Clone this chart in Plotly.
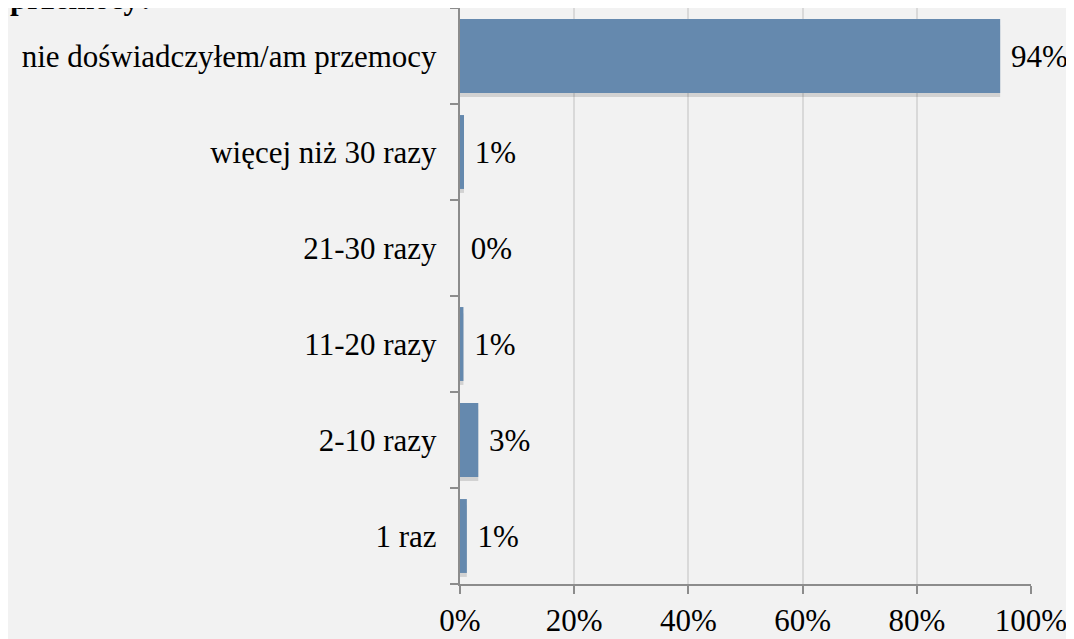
import plotly.graph_objects as go

categories = ["1 raz", "2-10 razy", "11-20 razy", "21-30 razy",
              "więcej niż 30 razy", "nie doświadczyłem/am przemocy"]
values = [1.2, 3.2, 0.6, 0.0, 0.7, 94.6]
labels = ["1%", "3%", "1%", "0%", "1%", "94%"]
x_ticks = [0, 20, 40, 60, 80, 100]
x_tick_labels = ["0%", "20%", "40%", "60%", "80%", "100%"]
title_text = "przemocy?"

W, H = 1074, 639
L, R, T, B = 452, 51, 0, 63
pw, ph = W - L - R, H - T - B

FONT = "Liberation Serif"
FS = 31
BW = 0.77
band_px = ph / len(categories)
shadow_dy = 4 / band_px

fig = go.Figure()
# soft drop shadow under the bars
fig.add_trace(go.Bar(
    y=categories, x=values, orientation="h",
    marker=dict(color="rgba(0,0,0,0.13)", line=dict(width=0)),
    width=BW * 0.97, offset=-BW / 2 - shadow_dy,
    hoverinfo="skip", showlegend=False,
))
fig.add_trace(go.Bar(
    y=categories, x=values, orientation="h",
    marker=dict(color="#6589AE", line=dict(width=0)),
    text=[" " + t for t in labels], textposition="outside",
    textfont=dict(family=FONT, size=FS, color="black"),
    cliponaxis=False, width=BW, offset=-BW / 2,
))

fig.update_layout(
    width=W, height=H, barmode="overlay",
    margin=dict(l=L, r=R, t=T, b=B, autoexpand=False),
    paper_bgcolor="#f2f2f2", plot_bgcolor="#f2f2f2",
    font=dict(family=FONT, size=FS, color="black"),
    showlegend=False,
    xaxis=dict(range=[0, 100], tickvals=x_ticks, ticktext=x_tick_labels,
               showgrid=True, gridcolor="#d9d9d9", gridwidth=1.5,
               showline=True, linecolor="#8c8c8c", linewidth=1.5,
               ticks="outside", ticklen=8, tickcolor="#8c8c8c", tickwidth=1.5,
               zeroline=False, automargin=False),
    yaxis=dict(categoryorder="array", categoryarray=categories,
               showline=True, linecolor="#8c8c8c", linewidth=1.5,
               ticks="outside", ticklen=8, tickcolor="#8c8c8c", tickwidth=1.5,
               tickson="boundaries", showgrid=False, ticksuffix="  ",
               automargin=False),
    annotations=[dict(text="<b>" + title_text + "</b>", xref="paper", yref="paper",
                      x=-L / pw, y=1.0, xanchor="left", yanchor="bottom", yshift=-10,
                      showarrow=False, font=dict(family=FONT, size=FS, color="black"))],
)

fig.write_html("out.html")
